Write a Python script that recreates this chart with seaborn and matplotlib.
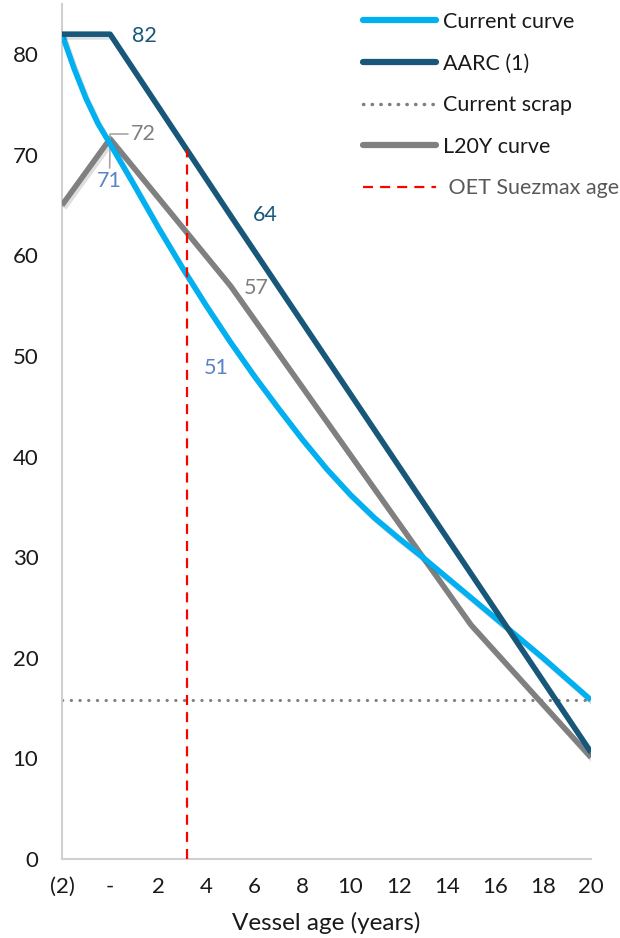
import matplotlib
matplotlib.use("Agg")
import matplotlib.pyplot as plt
import matplotlib.patheffects as pe
from matplotlib.lines import Line2D
from matplotlib.ticker import FuncFormatter
import numpy as np
import pandas as pd
import seaborn as sns

# Vessel value curves (USD m) by vessel age (years)
ages_current = [-2, -1.5, -1, -0.5, 0, 1, 2, 3, 4, 5, 6, 7, 8, 9, 10,
                11, 12, 13, 14, 15, 16, 17, 18, 19, 20]
current_curve = [82.0, 78.6, 75.6, 73.1, 71.1, 67.0, 62.8, 58.8, 55.0, 51.4,
                 48.0, 44.8, 41.7, 38.8, 36.2, 33.9, 31.9, 30.0, 28.0, 26.0,
                 24.0, 22.0, 20.0, 17.9, 15.8]

ages_aarc = [-2, 0, 5, 20]
aarc = [82, 82, 64, 10.6]

ages_l20y = [-2, 0, 5, 15, 20]
l20y = [65.0, 71.6, 57.0, 23.3, 10.1]

scrap_value = 15.8
oet_suezmax_age = 3.2

x_ticks = list(range(-2, 21, 2))
y_ticks = list(range(0, 81, 10))

C_CURRENT = "#00B0F0"
C_AARC = "#17577A"
C_L20Y = "#808080"
C_SCRAP = "#7F7F7F"
C_OET = "#FF0000"
C_TEXT = "#1A1A1A"
C_LAB_BLUE = "#5B83C6"

sns.set_theme(style="white")
plt.rcParams["font.family"] = ["Lato", "DejaVu Sans"]

fig = plt.figure(figsize=(6.2, 9.38), dpi=100)
ax = fig.add_axes([62 / 620, 1 - 859 / 938, (591 - 62) / 620, (859 - 4) / 938])

shadow = [pe.SimpleLineShadow(offset=(1.5, -2), shadow_color="black", alpha=0.13),
          pe.Normal()]

df_cur = pd.DataFrame({"age": ages_current, "value": current_curve})
df_aarc = pd.DataFrame({"age": ages_aarc, "value": aarc})
df_l20y = pd.DataFrame({"age": ages_l20y, "value": l20y})

# Scrap level across the whole age range
ax.axhline(scrap_value, color=C_SCRAP, lw=2.2, ls=(0, (0.1, 2.75)),
           dash_capstyle="round", zorder=2)

sns.lineplot(data=df_l20y, x="age", y="value", ax=ax, color=C_L20Y, lw=4.0,
             sort=False, estimator=None, zorder=3,
             path_effects=shadow, solid_capstyle="butt")
sns.lineplot(data=df_cur, x="age", y="value", ax=ax, color=C_CURRENT, lw=4.0,
             sort=False, estimator=None, zorder=4,
             path_effects=shadow, solid_capstyle="butt", solid_joinstyle="round")
sns.lineplot(data=df_aarc, x="age", y="value", ax=ax, color=C_AARC, lw=4.0,
             sort=False, estimator=None, zorder=5,
             path_effects=shadow, solid_capstyle="butt")

# OET Suezmax fleet age, up to the AARC curve
oet_top = np.interp(oet_suezmax_age, ages_aarc, aarc)
ax.plot([oet_suezmax_age, oet_suezmax_age], [0, oet_top], color=C_OET,
        lw=1.6, ls=(0, (4.5, 3.2)), zorder=6)

# Data labels
lab_fs = 15.5
ax.annotate(f"{aarc[1]:.0f}", xy=(0, aarc[1]), xytext=(25, -1),
            textcoords="offset points", ha="center", va="center",
            color=C_AARC, fontsize=lab_fs)
ax.annotate(f"{aarc[2]:.0f}", xy=(5, aarc[2]), xytext=(25, 0),
            textcoords="offset points", ha="center", va="center",
            color=C_AARC, fontsize=lab_fs)
ax.annotate(f"{l20y[1]:.0f}", xy=(0, l20y[1]), xytext=(24, 3.5),
            textcoords="offset points", ha="center", va="center",
            color=C_L20Y, fontsize=lab_fs,
            arrowprops=dict(arrowstyle="-", color="#A6A6A6", lw=1.2,
                            shrinkA=0, shrinkB=0,
                            connectionstyle="angle,angleA=0,angleB=90,rad=0"))
ax.annotate(f"{current_curve[4]:.0f}", xy=(0, current_curve[4]), xytext=(-0.5, -27),
            textcoords="offset points", ha="center", va="center",
            color=C_LAB_BLUE, fontsize=lab_fs,
            arrowprops=dict(arrowstyle="-", color="#A6A6A6", lw=1.2,
                            shrinkA=0, shrinkB=0))
ax.annotate(f"{l20y[2]:.0f}", xy=(5, l20y[2]), xytext=(19, -1.5),
            textcoords="offset points", ha="center", va="center",
            color=C_L20Y, fontsize=lab_fs)
ax.annotate(f"{current_curve[9]:.0f}", xy=(5, current_curve[9]), xytext=(-10, -18.5),
            textcoords="offset points", ha="center", va="center",
            color=C_LAB_BLUE, fontsize=lab_fs)

ax.set_xlim(-2, 20)
ax.set_ylim(0, 85)
ax.set_xticks(x_ticks)
ax.set_yticks(y_ticks)


def age_fmt(v, pos):
    if v < 0:
        return f"({abs(v):.0f})"
    if v == 0:
        return "-"
    return f"{v:.0f}"


ax.xaxis.set_major_formatter(FuncFormatter(age_fmt))
ax.tick_params(axis="both", length=0, labelsize=16, colors=C_TEXT)
ax.tick_params(axis="y", pad=17)
ax.tick_params(axis="x", pad=13)
ax.set_xlabel("Vessel age (years)", fontsize=17.5, color=C_TEXT, labelpad=11)
ax.set_ylabel("")
ax.grid(False)
for side in ("top", "right"):
    ax.spines[side].set_visible(False)
for side in ("left", "bottom"):
    ax.spines[side].set_color("#D0D0D0")
    ax.spines[side].set_linewidth(1.5)

handles = [
    Line2D([], [], color=C_CURRENT, lw=4.5, solid_capstyle="round"),
    Line2D([], [], color=C_AARC, lw=4.5, solid_capstyle="round"),
    Line2D([], [], color=C_SCRAP, lw=2.5, ls=(0, (0.1, 2.4)), dash_capstyle="round"),
    Line2D([], [], color=C_L20Y, lw=4.5, solid_capstyle="round"),
    Line2D([], [], color=C_OET, lw=1.6, ls=(0, (4.5, 3.2))),
]
labels = ["Current curve", "AARC (1)", "Current scrap", "L20Y curve", " OET Suezmax age"]
leg = fig.legend(handles, labels, loc="upper left",
                 bbox_to_anchor=(363 / 620, 1 - 12 / 938), frameon=False,
                 fontsize=15.5, handlelength=3.4, handletextpad=0.3,
                 labelspacing=1.0, borderpad=0, borderaxespad=0)
for t in leg.get_texts():
    t.set_color(C_TEXT)
leg.get_texts()[-1].set_color("#595959")

fig.savefig("out.png", dpi=100)
